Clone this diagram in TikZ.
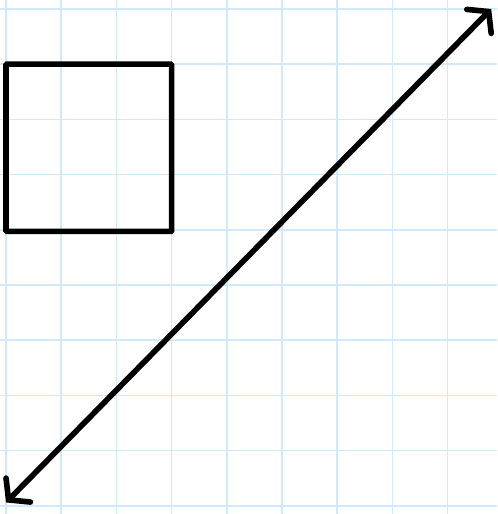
\documentclass[tikz,border=0pt]{standalone}
\usetikzlibrary{positioning,arrows.meta}

\definecolor{gridblue}{RGB}{208,234,252}

\begin{document}
\begin{tikzpicture}[
  gridline/.style={draw=gridblue, line width=0.8pt},
  box/.style={draw, line width=2.9pt, minimum width=3cm, minimum height=3.03cm,
              inner sep=0pt, rounded corners=0.5pt},
  arrow/.style={{Straight Barb[length=2.5mm, width=6.2mm, line cap=round]}-{Straight Barb[length=2.5mm, width=6.2mm, line cap=round]},
                line width=2.9pt, line cap=round},
]
\useasboundingbox (-0.109,-0.149) rectangle (8.895,9.163);

% ---- background grid -------------------------------------------------
\begin{scope}
  \clip (-0.109,-0.149) rectangle (8.895,9.163);
  \draw[gridline] (-1,-1) grid (10,10);
\end{scope}

% ---- square ----------------------------------------------------------
\node[box] (square) at (1.5,6.485) {};

% ---- double arrow ----------------------------------------------------
\coordinate (tail) at (0.0,0.06);
\coordinate (head) at (8.79,9.0);
\draw[arrow] (tail) -- (head);

\end{tikzpicture}
\end{document}
